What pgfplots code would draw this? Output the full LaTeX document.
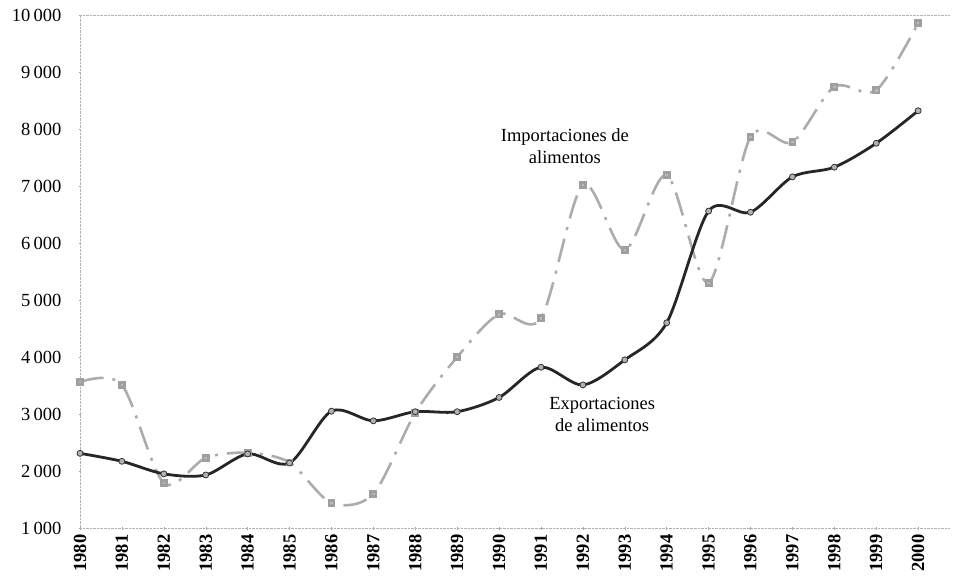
\documentclass[border=0pt]{standalone}
\usepackage{pgfplots}
\pgfplotsset{compat=1.18}
\usepackage{fontspec}
\setmainfont{Liberation Serif}
\begin{document}
\begin{tikzpicture}
\useasboundingbox (-80bp,-49bp) rectangle (873bp,528bp);
\begin{axis}[
  scale only axis, width=870bp, height=513bp,
  xmin=1980, xmax=2000.76, ymin=1000, ymax=10000,
  axis x line=bottom, axis y line=left,
  axis line style={gray!60, densely dotted, -},
  xtick={1980,...,2000}, ytick={1000,2000,...,10000},
  xticklabels={1980,1981,1982,1983,1984,1985,1986,1987,1988,1989,1990,1991,1992,1993,1994,1995,1996,1997,1998,1999,2000},
  yticklabels={1\,000,2\,000,3\,000,4\,000,5\,000,6\,000,7\,000,8\,000,9\,000,10\,000},
  tick style={gray!70, thin}, major tick length=3bp,
  tick label style={font=\fontsize{18.5bp}{22bp}\selectfont},
  yticklabel style={inner sep=0pt, anchor=east, xshift=-17bp},
  xticklabel style={rotate=90, anchor=east, inner sep=0pt, xshift=-5bp,
    font=\fontsize{18.5bp}{22bp}\selectfont\bfseries},
  clip=false,
]
\draw[gray!60, densely dotted] (axis cs:1980,10000) -- (axis cs:2000.76,10000);
\addplot[smooth, tension=0.5, color=gray!65, line width=2.6bp,
  dash pattern=on 24bp off 9bp on 3bp off 9bp,
  mark=square*, mark size=2.6bp, mark options={solid, fill=gray!55, draw=gray!75}]
coordinates {
(1980,3560)(1981,3510)(1982,1790)(1983,2230)(1984,2320)(1985,2150)
(1986,1440)(1987,1600)(1988,3020)(1989,4000)(1990,4750)(1991,4680)
(1992,7020)(1993,5880)(1994,7190)(1995,5300)(1996,7860)(1997,7770)
(1998,8740)(1999,8680)(2000,9860)};
\addplot[smooth, tension=0.5, color=black!85, line width=2.8bp,
  mark=*, mark size=3bp, mark options={fill=gray!60, draw=black!80, line width=0.8bp}]
coordinates {
(1980,2310)(1981,2170)(1982,1950)(1983,1930)(1984,2300)(1985,2140)
(1986,3050)(1987,2880)(1988,3040)(1989,3040)(1990,3290)(1991,3820)
(1992,3510)(1993,3950)(1994,4600)(1995,6560)(1996,6540)(1997,7160)
(1998,7330)(1999,7750)(2000,8320)};
\node[align=center, font=\fontsize{18.5bp}{22bp}\selectfont] at (axis cs:1991.57,7700) {Importaciones de\\alimentos};
\node[align=center, font=\fontsize{18.5bp}{22bp}\selectfont] at (axis cs:1992.46,3000) {Exportaciones\\de alimentos};
\end{axis}
\end{tikzpicture}
\end{document}
